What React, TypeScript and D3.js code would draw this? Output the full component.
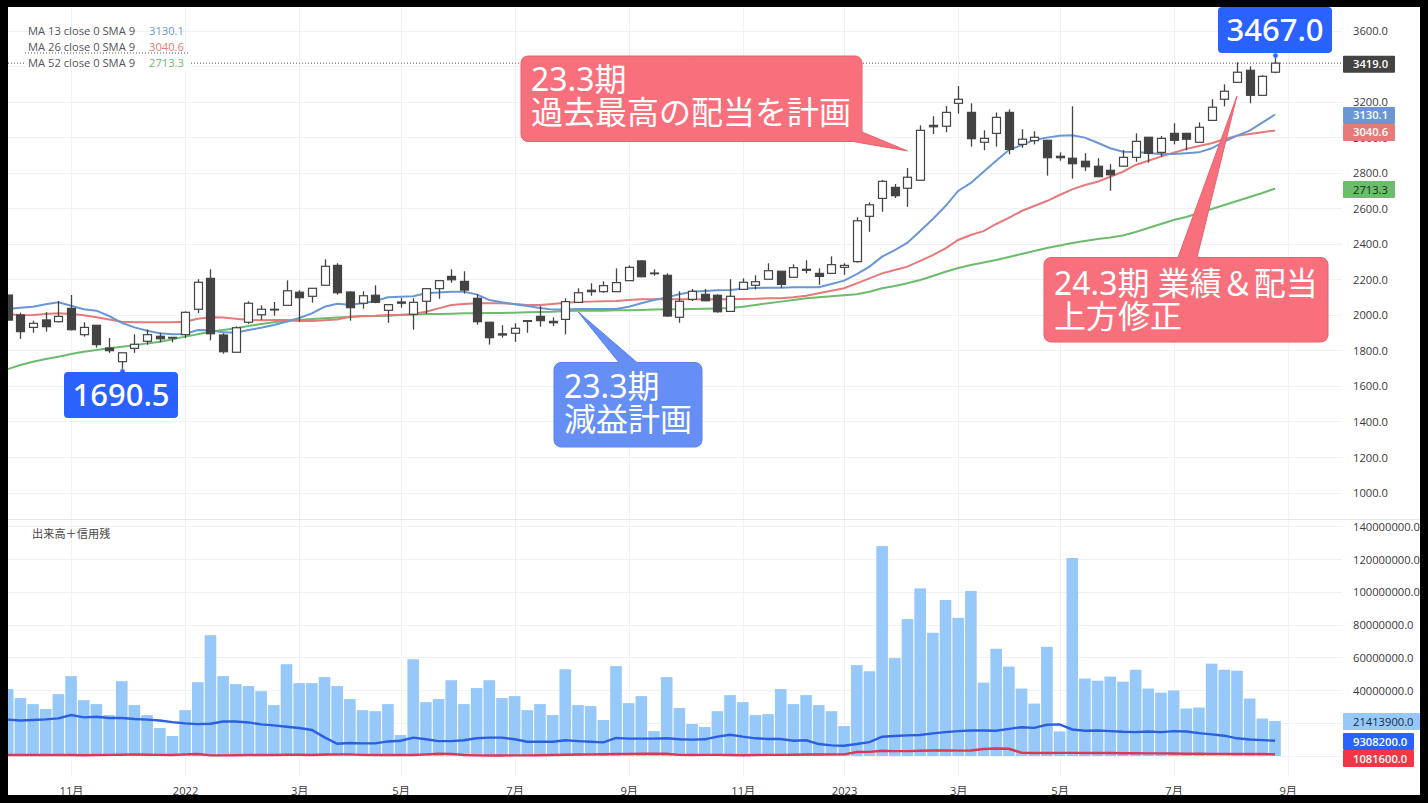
import React, { useEffect, useRef } from 'react';
import * as d3 from 'd3';

// weekly bars
const opens = [
  2114, 2002, 1932, 1974, 1964, 2039, 1891, 1944, 1816, 1739,
  1814, 1854, 1882, 1876, 1891, 2034, 2208, 1889, 1792, 1961,
  2003, 2034, 2056, 2130, 2107, 2169, 2281, 2131, 2068, 2113,
  2028, 2075, 2006, 2079, 2150, 2219, 2191, 2096, 1961, 1896,
  1899, 1970, 1994, 1966, 1977, 2073, 2141, 2133, 2133, 2195,
  2306, 2238, 2225, 1989, 2090, 2118, 2113, 2022, 2146, 2169,
  2203, 2248, 2214, 2259, 2236, 2236, 2270, 2302, 2557, 2658,
  2720, 2715, 2760, 3069, 3064, 3193, 3142, 2974, 3024, 3142,
  2962, 2983, 2985, 2895, 2884, 2867, 2839, 2816, 2839, 2889,
  3002, 2917, 3024, 3024, 2974, 3097, 3216, 3311, 3379, 3238, 3368,
];
const highs = [
  2114, 2015, 1970, 2019, 2080, 2114, 1961, 1944, 1872, 1789,
  1893, 1921, 1902, 1876, 2022, 2203, 2259, 1899, 1938, 2079,
  2056, 2075, 2197, 2141, 2152, 2315, 2293, 2135, 2135, 2169,
  2060, 2097, 2096, 2150, 2195, 2259, 2248, 2118, 1961, 1944,
  1955, 1970, 2052, 1989, 2096, 2152, 2180, 2191, 2264, 2281,
  2311, 2259, 2236, 2135, 2148, 2148, 2118, 2203, 2208, 2225,
  2293, 2248, 2287, 2310, 2264, 2332, 2293, 2552, 2636, 2761,
  2739, 2829, 3069, 3120, 3178, 3290, 3193, 3041, 3142, 3159,
  3047, 3036, 2985, 2917, 3176, 2912, 2884, 2851, 2930, 3024,
  3002, 3009, 3081, 3024, 3086, 3216, 3300, 3424, 3401, 3351, 3467,
];
const lows = [
  1973, 1868, 1902, 1908, 1960, 1915, 1880, 1818, 1789, 1690.5,
  1789, 1835, 1848, 1848, 1871, 2013, 1859, 1784, 1792, 1951,
  1974, 1998, 2056, 1964, 2071, 2169, 2116, 1970, 2037, 2068,
  1958, 2043, 1919, 2009, 2093, 2184, 2122, 1947, 1835, 1874,
  1851, 1902, 1936, 1940, 1893, 2073, 2110, 2127, 2133, 2195,
  2214, 2223, 1992, 1958, 2080, 2079, 2015, 2022, 2146, 2146,
  2203, 2155, 2214, 2236, 2172, 2236, 2228, 2296, 2470, 2583,
  2660, 2611, 2760, 3020, 3030, 3135, 2949, 2929, 2949, 2906,
  2943, 2962, 2786, 2870, 2769, 2812, 2780, 2701, 2839, 2864,
  2859, 2893, 2962, 2929, 2974, 3097, 3176, 3311, 3193, 3238, 3362,
];
const closes = [
  1973, 1908, 1955, 1936, 1994, 1919, 1932, 1835, 1801, 1789,
  1837, 1891, 1868, 1872, 2017, 2186, 1896, 1795, 1930, 2068,
  2034, 2030, 2138, 2099, 2152, 2276, 2127, 2043, 2110, 2073,
  2060, 2068, 2073, 2150, 2195, 2200, 2142, 1964, 1874, 1889,
  1927, 1966, 1970, 1958, 2077, 2127, 2133, 2167, 2184, 2270,
  2217, 2234, 1996, 2079, 2135, 2082, 2020, 2107, 2186, 2189,
  2251, 2174, 2268, 2253, 2219, 2285, 2281, 2532, 2622, 2754,
  2673, 2777, 3041, 3061, 3142, 3216, 2994, 2996, 3114, 2934,
  2991, 3002, 2887, 2887, 2853, 2836, 2780, 2791, 2889, 2979,
  2912, 2996, 2985, 2991, 3058, 3171, 3261, 3368, 3238, 3345, 3419,
];

const ma13 = [
  2035, 2043, 2048, 2062, 2073, 2054, 2034, 2026, 1996, 1958,
  1932, 1913, 1899, 1893, 1895, 1917, 1916, 1904, 1902, 1917,
  1930, 1945, 1964, 1985, 2011, 2048, 2065, 2060, 2068, 2080,
  2101, 2105, 2107, 2124, 2129, 2133, 2133, 2118, 2086, 2073,
  2062, 2052, 2041, 2032, 2032, 2035, 2035, 2035, 2035, 2048,
  2068, 2086, 2101, 2118, 2133, 2137, 2141, 2142, 2150, 2154,
  2155, 2155, 2158, 2158, 2158, 2176, 2195, 2232, 2274, 2330,
  2367, 2409, 2474, 2542, 2615, 2700, 2745, 2808, 2870, 2930,
  2958, 2987, 3000, 3011, 3013, 3000, 2971, 2940, 2921, 2919,
  2913, 2908, 2908, 2912, 2917, 2940, 2977, 3011, 3039, 3084, 3130.1,
];
const ma26 = [
  2007, 2000, 2002, 2007, 2011, 2007, 2000, 1989, 1977, 1964,
  1961, 1961, 1961, 1961, 1964, 1981, 1989, 1987, 1981, 1974,
  1972, 1974, 1974, 1968, 1968, 1972, 1977, 1992, 1996, 1998,
  2002, 2003, 2007, 2020, 2039, 2058, 2064, 2068, 2068, 2068,
  2064, 2058, 2058, 2064, 2071, 2075, 2077, 2079, 2080, 2086,
  2090, 2090, 2092, 2090, 2090, 2090, 2090, 2090, 2092, 2093,
  2096, 2096, 2101, 2110, 2124, 2138, 2152, 2180, 2208, 2236,
  2255, 2274, 2306, 2339, 2377, 2424, 2452, 2474, 2514, 2548,
  2587, 2615, 2643, 2677, 2709, 2733, 2752, 2780, 2808, 2846,
  2870, 2893, 2915, 2936, 2953, 2968, 2991, 3011, 3020, 3030, 3040.6,
];
const ma52 = [
  1697, 1720, 1739, 1754, 1767, 1782, 1795, 1805, 1814, 1823,
  1831, 1842, 1851, 1865, 1880, 1893, 1908, 1917, 1927, 1940,
  1951, 1961, 1970, 1974, 1979, 1983, 1988, 1991, 1994, 1996,
  1998, 2002, 2003, 2007, 2007, 2009, 2011, 2011, 2013, 2013,
  2015, 2017, 2019, 2020, 2024, 2026, 2026, 2026, 2028, 2028,
  2030, 2032, 2034, 2034, 2035, 2037, 2039, 2041, 2048, 2058,
  2068, 2077, 2086, 2096, 2101, 2107, 2113, 2118, 2133, 2152,
  2165, 2180, 2199, 2221, 2245, 2266, 2283, 2297, 2311, 2328,
  2345, 2362, 2379, 2393, 2407, 2418, 2429, 2438, 2449, 2469,
  2491, 2514, 2536, 2553, 2576, 2598, 2621, 2643, 2666, 2688, 2713.3,
];

// millions of shares
const volumes = [
  40.9, 35.4, 31.7, 28.7, 37.8, 48.8, 34.1, 31.7, 25, 45.7,
  31.1, 25, 17.1, 12.2, 28, 45.1, 73.8, 48.8, 43.9, 42.7,
  39.6, 31.1, 56.1, 44.5, 44.5, 48.2, 42.7, 34.8, 28, 27.4,
  31.7, 12.8, 59.1, 32.9, 34.8, 46.3, 31.7, 41.5, 46.3, 35.4,
  36.6, 28, 31.7, 25, 53, 31.1, 30.5, 22, 54.9, 32.3,
  36.6, 15.2, 48.2, 29.3, 19.5, 17.7, 27.4, 37.2, 32.9, 25,
  25.6, 40.9, 31.7, 37.2, 31.1, 27.4, 18.3, 55.5, 51.8, 128.2,
  59.8, 83.7, 102.4, 75.3, 95.3, 84.4, 100.8, 44.8, 65.5, 54.6,
  41.2, 32, 66.7, 15, 120.9, 47.3, 46, 48.5, 45.4, 52.7,
  41.2, 38.7, 40, 29, 29.6, 56.4, 52.7, 52.1, 35.1, 22.9, 21.4139,
];
const marginBuy = [
  22.2, 21.7, 22, 22.4, 23, 25, 23.6, 24, 23.2, 23.2,
  22.6, 22.2, 21.7, 20.7, 19.9, 19.5, 19.7, 21.1, 21.1, 20.5,
  19.3, 18.7, 17.9, 17.1, 15.9, 11.4, 7.5, 7.9, 7.7, 7.7,
  8.9, 9.3, 11.2, 10.2, 9.1, 9.1, 9.6, 10.8, 11.2, 11.2,
  10.2, 8.7, 8.7, 8.7, 9.6, 9.1, 8.7, 8.3, 11, 10.6,
  10.6, 10.6, 10.8, 10.2, 10, 10.2, 11.8, 13, 11.8, 10.8,
  10.4, 10.4, 9.3, 9.6, 7.3, 6.5, 6.3, 7.3, 8.5, 11.8,
  12.2, 12.6, 12.8, 13.8, 14.6, 15.2, 15.6, 15.6, 15.4, 16.6,
  17.6, 17.2, 19.1, 19.3, 16.2, 15.4, 15.6, 15.2, 14.8, 14.6,
  15, 14.6, 15.2, 15, 14, 13.2, 12.4, 10.8, 10.1, 9.7, 9.3082,
];
const marginSell = [
  0.6, 0.6, 0.6, 0.6, 0.6, 0.6, 0.5, 0.6, 0.7, 0.8,
  1, 0.8, 0.7, 0.6, 1, 1.2, 0.4, 0.4, 0.5, 0.6,
  0.6, 0.6, 0.8, 0.8, 0.6, 0.9, 1, 1, 0.7, 0.6,
  0.6, 0.6, 0.6, 1, 1.4, 1.3, 0.6, 0.4, 0.3, 0.3,
  0.4, 0.4, 0.5, 0.6, 0.8, 0.9, 1, 1.1, 1.2, 1.3,
  1.4, 1.4, 1.4, 0.7, 0.6, 0.7, 0.7, 0.6, 0.5, 0.6,
  0.7, 0.7, 0.8, 0.9, 0.9, 1, 1, 2.4, 2.5, 3.2,
  3, 3, 3.2, 3.4, 3.4, 3.3, 3.4, 4.3, 4.6, 4.4,
  2, 1.8, 1.8, 1.9, 1.9, 1.8, 1.8, 1.8, 1.7, 1.7,
  1.6, 1.6, 1.5, 1.4, 1.4, 1.3, 1.3, 1.2, 1.3, 1.2, 1.0816,
];

const timeTickBars = [5, 14, 23, 31, 40, 49, 58, 66, 75, 83, 92, 101];
const timeTickLabels = ['11月', '2022', '3月', '5月', '7月', '9月', '11月', '2023', '3月', '5月', '7月', '9月'];
const priceTicks = d3.range(1000, 3601, 200);
const volumeTicks = d3.range(0, 140000001, 20000000);
// these labels sit fully behind the value tags in the reference
const hiddenPriceLabels = [3400];
const hiddenVolumeLabels = [0, 20000000];

const UP = '#ffffff';
const DOWN = '#434343';
const BLUE_MA = '#6a97d4';
const RED_MA = '#e57a7a';
const GREEN_MA = '#6dbb6d';
const GRID = '#eff1f6';
const FONT = '"Open Sans", "Noto Sans CJK JP", sans-serif';
const BIG_FONT = '"Noto Sans", "Noto Sans CJK JP", sans-serif';

type Pt = [number, number, number];

// outline with rounded corners, third value is the corner radius
const outline = (pts: Pt[]) => {
  const p = d3.path();
  const n = pts.length;
  p.moveTo((pts[0][0] + pts[1][0]) / 2, (pts[0][1] + pts[1][1]) / 2);
  for (let k = 1; k <= n; k++) {
    const c = pts[k % n];
    const next = pts[(k + 1) % n];
    p.arcTo(c[0], c[1], next[0], next[1], c[2]);
  }
  p.closePath();
  return p.toString();
};

const App: React.FC = () => {
  const ref = useRef<SVGSVGElement | null>(null);

  useEffect(() => {
    const svg = d3.select(ref.current);
    svg.selectAll('*').remove();

    const x = d3.scaleLinear().domain([0, 100]).range([7.7, 1275]);
    const y = d3.scaleLinear().domain([1000, 3600]).range([493, 31]);
    const v = d3.scaleLinear().domain([0, 140]).range([756, 526.8]);
    const px = (i: number) => Math.round(x(i)) + 0.5;
    const bars = d3.range(opens.length);

    svg.append('rect').attr('width', 1428).attr('height', 803).attr('fill', '#fff');

    // grid
    const grid = svg.append('g').attr('stroke', GRID).attr('stroke-width', 1).attr('shape-rendering', 'crispEdges');
    priceTicks.forEach((t) => grid.append('line').attr('x1', 8).attr('x2', 1342).attr('y1', y(t)).attr('y2', y(t)));
    volumeTicks.forEach((t) => grid.append('line').attr('x1', 8).attr('x2', 1342).attr('y1', v(t / 1e6)).attr('y2', v(t / 1e6)));
    timeTickBars.forEach((b) => grid.append('line').attr('x1', px(b)).attr('x2', px(b)).attr('y1', 8).attr('y2', 777));
    svg.append('line').attr('x1', 8).attr('x2', 1420).attr('y1', 519.5).attr('y2', 519.5).attr('stroke', '#e4e6ec');

    // last price line
    svg.append('line').attr('x1', 8).attr('x2', 1343).attr('y1', y(3419)).attr('y2', y(3419))
      .attr('stroke', '#555').attr('stroke-dasharray', '1 2');

    // volume
    svg.append('g').selectAll('rect').data(bars).join('rect')
      .attr('x', (i) => x(i) - 5.8).attr('width', 11.6)
      .attr('y', (i) => v(volumes[i])).attr('height', (i) => v(0) - v(volumes[i]))
      .attr('fill', '#96c9fa');
    const volLine = (s: number[]) => d3.line<number>().x((i) => x(i)).y((i) => v(s[i]))(bars);
    svg.append('path').attr('d', volLine(marginBuy)).attr('fill', 'none').attr('stroke', '#2b5fe0').attr('stroke-width', 2.4);
    svg.append('path').attr('d', volLine(marginSell)).attr('fill', 'none').attr('stroke', '#d83a55').attr('stroke-width', 2.4);

    // moving averages
    const maLine = (s: number[]) => d3.line<number>().x((i) => x(i)).y((i) => y(s[i]))(bars);
    ([[ma52, GREEN_MA], [ma26, RED_MA], [ma13, BLUE_MA]] as [number[], string][]).forEach(([s, c]) => {
      svg.append('path').attr('d', maLine(s)).attr('fill', 'none').attr('stroke', c).attr('stroke-width', 2);
    });

    // candles
    const candles = svg.append('g');
    candles.selectAll('line').data(bars).join('line')
      .attr('x1', px).attr('x2', px)
      .attr('y1', (i) => y(highs[i])).attr('y2', (i) => y(lows[i]))
      .attr('stroke', DOWN).attr('stroke-width', 1.3);
    candles.selectAll('rect').data(bars).join('rect')
      .attr('x', (i) => px(i) - 4).attr('width', 8)
      .attr('y', (i) => y(Math.max(opens[i], closes[i])))
      .attr('height', (i) => Math.max(0.6, Math.abs(y(opens[i]) - y(closes[i]))))
      .attr('fill', (i) => (closes[i] < opens[i] ? DOWN : UP))
      .attr('stroke', DOWN).attr('stroke-width', 1.2);

    // price extremes
    const extremes = [
      { bar: 9, price: 1690.5, box: [64, 372, 114, 46], dotY: 1 },
      { bar: 100, price: 3467, box: [1218, 7, 114, 46], dotY: 1 },
    ];
    extremes.forEach((e) => {
      svg.append('circle').attr('cx', px(e.bar)).attr('cy', y(e.price) + e.dotY).attr('r', 2.4)
        .attr('fill', '#2962ff').attr('stroke', '#9db8f5').attr('stroke-width', 0.6);
      svg.append('rect').attr('x', e.box[0]).attr('y', e.box[1]).attr('width', e.box[2]).attr('height', e.box[3])
        .attr('rx', 4).attr('fill', '#2962ff');
      svg.append('text').attr('x', e.box[0] + e.box[2] / 2).attr('y', e.box[1] + 34)
        .attr('text-anchor', 'middle').attr('fill', '#fff').attr('font-family', BIG_FONT)
        .attr('font-size', 31).attr('font-weight', 500)
        .text(e.price.toFixed(1));
    });

    // callouts
    const callout = (pts: Pt[], fill: string, stroke: string, tx: number, ty: number, lines: string[]) => {
      svg.append('path').attr('d', outline(pts)).attr('fill', fill).attr('stroke', stroke).attr('stroke-width', 1);
      lines.forEach((t, k) => {
        svg.append('text').attr('x', tx).attr('y', ty + k * 33).attr('fill', '#fff')
          .attr('font-family', BIG_FONT).attr('font-size', 32).text(t);
      });
    };
    const R = 7;
    callout(
      [[521, 56, R], [862, 56, R], [862, 132, 0], [x(71), y(2925), 0], [853, 141.5, 0], [521, 141.5, R]],
      '#f7707c', '#e8606e', 531, 91, ['23.3期', '過去最高の配当を計画'],
    );
    callout(
      [[1044, 257.5, R], [1178, 257.5, 0], [x(97), y(3234), 0], [1197, 257.5, 0], [1328, 257.5, R], [1328, 342, R], [1044, 342, R]],
      '#f7707c', '#e8606e', 1054, 295, ['24.3期 業績＆配当', '上方修正'],
    );
    callout(
      [[554, 362.5, R], [619, 362.5, 0], [x(45), y(2020), 0], [637, 362.5, 0], [702, 362.5, R], [702, 447, R], [554, 447, R]],
      '#668ff5', '#5a82ee', 564, 398, ['23.3期', '減益計画'],
    );

    // right axes
    const styleAxis = (g: d3.Selection<SVGGElement, unknown, null, undefined>) => {
      g.select('.domain').remove();
      g.selectAll('text').attr('font-family', FONT).attr('font-size', 11.2).attr('fill', '#3a3a3a');
    };
    svg.append('g').attr('transform', 'translate(1353,0)')
      .call(d3.axisRight(y).tickValues(priceTicks.filter((t) => !hiddenPriceLabels.includes(t)))
        .tickSize(0).tickPadding(0).tickFormat(d3.format('.1f')) as any)
      .call(styleAxis as any);
    svg.append('g').attr('transform', 'translate(1353,0)')
      .call(d3.axisRight(d3.scaleLinear().domain([0, 140000000]).range([756, 526.8]))
        .tickValues(volumeTicks.filter((t) => !hiddenVolumeLabels.includes(t)))
        .tickSize(0).tickPadding(0).tickFormat(d3.format('.1f')) as any)
      .call(styleAxis as any);

    // time axis
    svg.append('g').attr('transform', 'translate(0,787)')
      .call(d3.axisBottom(x).tickValues(timeTickBars).tickSize(0).tickPadding(0)
        .tickFormat((_, k) => timeTickLabels[k]) as any)
      .call(styleAxis as any);

    // value tags on the axis
    const tag = (cy: number, fill: string, color: string, label: string, w: number) => {
      svg.append('rect').attr('x', 1343).attr('y', cy - 8.5).attr('width', w).attr('height', 17).attr('fill', fill).attr('rx', 1);
      svg.append('text').attr('x', 1353).attr('y', cy + 4).attr('fill', color)
        .attr('font-family', FONT).attr('font-size', 11.2).attr('font-weight', color === '#fff' ? 600 : 400).text(label);
    };
    tag(y(3419) + 1, DOWN, '#fff', '3419.0', 52);
    tag(y(3130.1) + 1, BLUE_MA, '#fff', '3130.1', 52);
    tag(y(3040.6) + 2, RED_MA, '#fff', '3040.6', 52);
    tag(y(2713.3) + 1, GREEN_MA, '#12320f', '2713.3', 52);
    tag(721.5, '#96c9fa', '#1c2a3a', '21413900.0', 77);
    tag(741.5, '#2962ff', '#fff', '9308200.0', 71);
    tag(758.5, '#f23645', '#fff', '1081600.0', 71);

    // legend
    const legend = svg.append('g').attr('font-family', FONT).attr('font-size', 11.2);
    legend.append('rect').attr('x', 25).attr('y', 55).attr('width', 165).attr('height', 15).attr('fill', '#fff');
    legend.append('line').attr('x1', 25).attr('x2', 190).attr('y1', 53).attr('y2', 53)
      .attr('stroke', '#555').attr('stroke-dasharray', '1 2');
    const legendRows: [string, string, string][] = [
      ['MA 13 close 0 SMA 9', '3130.1', BLUE_MA],
      ['MA 26 close 0 SMA 9', '3040.6', RED_MA],
      ['MA 52 close 0 SMA 9', '2713.3', GREEN_MA],
    ];
    legendRows.forEach(([name, val, c], k) => {
      legend.append('text').attr('x', 28).attr('y', 35 + k * 16).attr('fill', '#555').text(name);
      legend.append('text').attr('x', 149).attr('y', 35 + k * 16).attr('fill', c).text(val);
    });
    svg.append('text').attr('x', 32).attr('y', 538).attr('font-family', FONT).attr('font-size', 11.2).attr('fill', '#444')
      .text('出来高＋信用残');

    // black frame of the screenshot
    const frame = svg.append('g').attr('fill', '#000');
    frame.append('rect').attr('x', 0).attr('y', 0).attr('width', 1428).attr('height', 7);
    frame.append('rect').attr('x', 0).attr('y', 795).attr('width', 1428).attr('height', 8);
    frame.append('rect').attr('x', 0).attr('y', 0).attr('width', 8).attr('height', 803);
    frame.append('rect').attr('x', 1420).attr('y', 0).attr('width', 8).attr('height', 803);
  }, []);

  return (
    <div style={{ position: 'absolute', left: 0, top: 0 }}>
      <svg ref={ref} width={1428} height={803} style={{ display: 'block' }} />
    </div>
  );
};

export default App;
